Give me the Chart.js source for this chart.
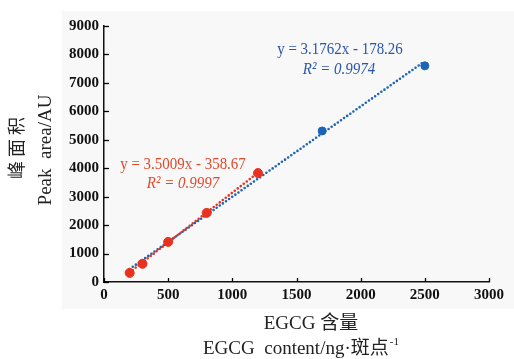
<!DOCTYPE html>
<html>
<head>
<meta charset="utf-8">
<script src="https://cdn.jsdelivr.net/npm/chart.js@4.4.0/dist/chart.umd.min.js"></script>
<style>
  html, body { margin: 0; padding: 0; background: #fff; }
  #wrap { width: 514px; height: 359px; }
</style>
</head>
<body>
<div id="wrap"><canvas id="chart"></canvas></div>
<script>
// values
const lowX = [200, 300, 500, 800, 1200];
const lowY = [320, 640, 1410, 2430, 3830];
const highX = [1700, 2500];
const highY = [5310, 7600];
// trend line end points
const redFitX = [200, 1200];
const redFitY = [342, 3842];
const blueFitX = [200, 2500];
const blueFitY = [457, 7762];
const xTicks = [0, 500, 1000, 1500, 2000, 2500, 3000];
const yTicks = [0, 1000, 2000, 3000, 4000, 5000, 6000, 7000, 8000, 9000];

const RED = '#e8321f';
const BLUE = '#1c64b6';
const SERIF = '"Liberation Serif", "Noto Sans CJK SC", serif';

const pts = (xs, ys) => xs.map((x, i) => ({ x, y: ys[i] }));

const background = {
  id: 'background',
  beforeDraw(chart) {
    const ctx = chart.ctx;
    ctx.save();
    ctx.fillStyle = '#fff';
    ctx.fillRect(0, 0, chart.width, chart.height);
    ctx.fillStyle = '#f8f8f8';
    ctx.fillRect(62, 11, chart.width - 62, 298);
    ctx.restore();
  }
};

// condensed text, like the narrow serif of the original
function narrowText(ctx, text, cx, cy, font) {
  ctx.save();
  ctx.font = font;
  ctx.translate(cx, cy);
  ctx.scale(0.88, 1);
  ctx.fillText(text, 0, 0);
  ctx.restore();
}

const extras = {
  id: 'extras',
  afterDraw(chart) {
    const ctx = chart.ctx;
    const { x, y } = chart.scales;
    const area = chart.chartArea;
    ctx.save();
    // inward tick marks
    ctx.strokeStyle = '#000';
    ctx.lineWidth = 1.3;
    yTicks.forEach(v => {
      const py = Math.round(y.getPixelForValue(v)) + 0.5;
      ctx.beginPath();
      ctx.moveTo(area.left, py);
      ctx.lineTo(area.left + 5, py);
      ctx.stroke();
    });
    xTicks.forEach(v => {
      const px = Math.round(x.getPixelForValue(v)) + 0.5;
      ctx.beginPath();
      ctx.moveTo(px, area.bottom);
      ctx.lineTo(px, area.bottom - 4);
      ctx.stroke();
    });

    // equations
    ctx.textAlign = 'center';
    ctx.textBaseline = 'middle';
    ctx.fillStyle = '#2b55a8';
    narrowText(ctx, 'y = 3.1762x - 178.26', 340, 50, '17px ' + SERIF);
    narrowText(ctx, 'R² = 0.9974', 339, 70, 'italic 17px ' + SERIF);
    ctx.fillStyle = '#e2492c';
    narrowText(ctx, 'y = 3.5009x - 358.67', 183, 165, '17px ' + SERIF);
    narrowText(ctx, 'R² = 0.9997', 183, 184, 'italic 17px ' + SERIF);

    // axis titles
    ctx.fillStyle = '#222';
    ctx.font = '19px ' + SERIF;
    ctx.fillText('EGCG 含量', 311, 324);
    const line2 = 'EGCG  content/ng·斑点';
    const w2 = ctx.measureText(line2).width;
    const left2 = 203;
    ctx.textAlign = 'left';
    ctx.fillText(line2, left2, 349);
    ctx.font = '11px ' + SERIF;
    ctx.fillText('-1', left2 + w2 + 1, 342);

    ctx.save();
    ctx.translate(46, 150);
    ctx.rotate(-Math.PI / 2);
    ctx.textAlign = 'center';
    ctx.font = '19px ' + SERIF;
    ctx.fillText('Peak  area/AU', 0, 0);
    ctx.restore();

    ctx.save();
    ctx.translate(18, 148);
    ctx.rotate(-Math.PI / 2);
    ctx.textAlign = 'center';
    ctx.font = '18px ' + SERIF;
    ctx.letterSpacing = '4px';
    ctx.fillText('峰面积', 2, 0);
    ctx.restore();

    ctx.restore();
  }
};

const tickFont = { family: SERIF, size: 15, weight: 'bold' };

new Chart(document.getElementById('chart'), {
  type: 'scatter',
  data: {
    datasets: [
      {
        data: pts(lowX, lowY),
        backgroundColor: RED, borderColor: RED,
        pointRadius: 4.5, order: 0
      },
      {
        data: pts(highX, highY),
        backgroundColor: BLUE, borderColor: BLUE,
        pointRadius: 4, order: 1
      },
      {
        data: pts(redFitX, redFitY),
        showLine: true, pointRadius: 0,
        borderColor: RED, borderWidth: 2.6,
        borderDash: [0, 3.8], borderCapStyle: 'round', order: 2
      },
      {
        data: pts(blueFitX, blueFitY),
        showLine: true, pointRadius: 0,
        borderColor: BLUE, borderWidth: 2.6,
        borderDash: [0, 3.8], borderCapStyle: 'round', order: 3
      }
    ]
  },
  options: {
    responsive: true,
    maintainAspectRatio: false,
    animation: false,
    layout: { padding: { left: 0, right: 25, top: 26, bottom: 0 } },
    plugins: { legend: { display: false }, tooltip: { enabled: false } },
    scales: {
      x: {
        type: 'linear', min: 0, max: 3000,
        afterBuildTicks(scale) { scale.ticks = xTicks.map(v => ({ value: v })); },
        afterFit(scale) { scale.height = 77; },
        ticks: { color: '#111', padding: 4, font: tickFont, callback: v => String(v) },
        grid: { drawOnChartArea: false, drawTicks: false },
        border: { display: true, color: '#111', width: 1.5 }
      },
      y: {
        type: 'linear', min: 0, max: 9000,
        afterBuildTicks(scale) { scale.ticks = yTicks.map(v => ({ value: v })); },
        afterFit(scale) { scale.width = 104; },
        ticks: { color: '#111', padding: 5, font: tickFont, callback: v => String(v) },
        grid: { drawOnChartArea: false, drawTicks: false },
        border: { display: true, color: '#111', width: 1.5 }
      }
    }
  },
  plugins: [background, extras]
});
</script>
</body>
</html>
